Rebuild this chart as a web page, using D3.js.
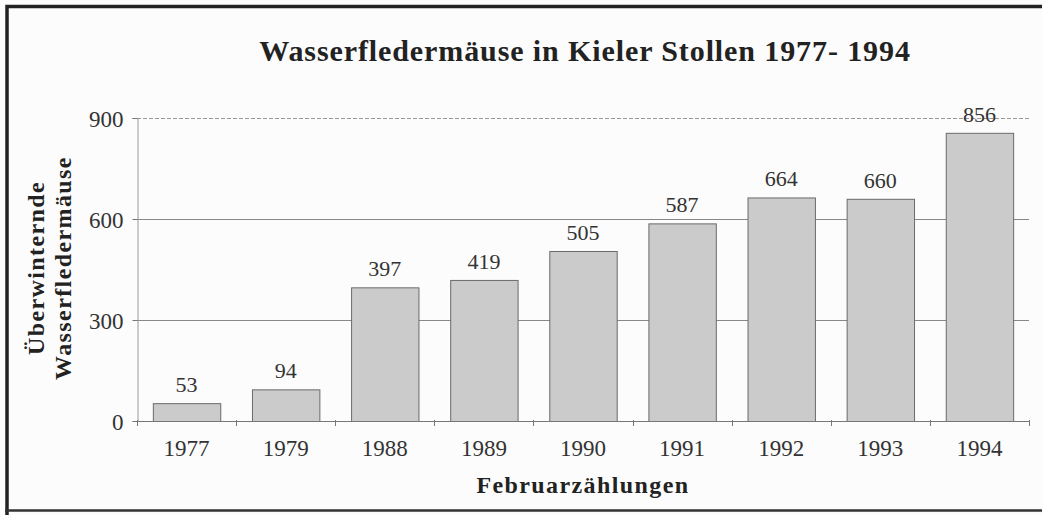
<!DOCTYPE html>
<html>
<head>
<meta charset="utf-8">
<script src="https://cdn.jsdelivr.net/npm/d3@7"></script>
<style>
  body { margin: 0; background: #fcfcfc; }
  svg { display: block; }
</style>
</head>
<body>
<div id="chart"></div>
<script>
const years = ['1977', '1979', '1988', '1989', '1990', '1991', '1992', '1993', '1994'];
const counts = [53, 94, 397, 419, 505, 587, 664, 660, 856];
const yTicks = [0, 300, 600, 900];

const width = 1042, height = 515;
const plot = { left: 137, right: 1029, top: 118, bottom: 421 };
const serif = '"Liberation Serif", "DejaVu Serif", serif';

const svg = d3.select('#chart')
  .append('svg')
  .attr('width', width)
  .attr('height', height)
  .attr('font-family', serif);

// frame
svg.append('path')
  .attr('d', `M7,${height + 5} L7,6.5 L${width + 5},6.5`)
  .attr('fill', 'none')
  .attr('stroke', '#222')
  .attr('stroke-width', 3.5);
svg.append('line')
  .attr('x1', 5).attr('x2', width + 5)
  .attr('y1', 510.5).attr('y2', 510.5)
  .attr('stroke', '#333')
  .attr('stroke-width', 2.5);

const x = d3.scaleBand()
  .domain(years)
  .range([plot.left, plot.right])
  .paddingInner(0.32)
  .paddingOuter(0.16);

const y = d3.scaleLinear()
  .domain([0, 900])
  .range([plot.bottom, plot.top]);

// grid lines
svg.append('g')
  .selectAll('line')
  .data(yTicks.filter(d => d > 0))
  .enter()
  .append('line')
  .attr('x1', plot.left).attr('x2', plot.right)
  .attr('y1', d => Math.round(y(d)) + 0.5)
  .attr('y2', d => Math.round(y(d)) + 0.5)
  .attr('stroke', d => d === 900 ? '#999' : '#888')
  .attr('stroke-dasharray', d => d === 900 ? '4,2' : null);

// y axis
const yAxis = svg.append('g')
  .attr('transform', `translate(${plot.left + 0.5},0)`)
  .call(d3.axisLeft(y).tickValues(yTicks).tickSize(5).tickPadding(9).tickFormat(d3.format('d')));
yAxis.attr('font-family', serif);
yAxis.select('.domain').attr('stroke', '#999');
yAxis.selectAll('.tick line').attr('stroke', '#777');
yAxis.selectAll('.tick text')
  .attr('font-size', 23)
  .attr('fill', '#333')
  .attr('dy', '0.36em');

// bars
svg.append('g')
  .selectAll('rect')
  .data(counts)
  .enter()
  .append('rect')
  .attr('x', (d, i) => x(years[i]) + 0.5)
  .attr('y', d => y(d) + 0.5)
  .attr('width', x.bandwidth())
  .attr('height', d => y(0) - y(d))
  .attr('fill', '#cbcbcb')
  .attr('stroke', '#6a6a6a')
  .attr('stroke-width', 1);

// x baseline with ticks at band boundaries
const step = x.step();
svg.append('line')
  .attr('x1', plot.left).attr('x2', plot.right)
  .attr('y1', y(0) + 0.5).attr('y2', y(0) + 0.5)
  .attr('stroke', '#777');
svg.append('g')
  .selectAll('line')
  .data(d3.range(years.length + 1))
  .enter()
  .append('line')
  .attr('x1', i => Math.round(plot.left + i * step) + 0.5)
  .attr('x2', i => Math.round(plot.left + i * step) + 0.5)
  .attr('y1', y(0) - 1)
  .attr('y2', y(0) + 5)
  .attr('stroke', '#777');

// x tick labels
svg.append('g')
  .selectAll('text')
  .data(years)
  .enter()
  .append('text')
  .attr('x', d => x(d) + x.bandwidth() / 2)
  .attr('y', 456)
  .attr('text-anchor', 'middle')
  .attr('font-family', serif)
  .attr('font-size', 23)
  .attr('fill', '#333')
  .text(d => d);

// value labels
svg.append('g')
  .selectAll('text')
  .data(counts)
  .enter()
  .append('text')
  .attr('x', (d, i) => x(years[i]) + x.bandwidth() / 2)
  .attr('y', d => y(d) - 11)
  .attr('text-anchor', 'middle')
  .attr('font-family', serif)
  .attr('font-size', 22)
  .attr('fill', '#333')
  .text(d => d);

// title
svg.append('text')
  .attr('x', 585)
  .attr('y', 61)
  .attr('text-anchor', 'middle')
  .attr('font-size', 30)
  .attr('letter-spacing', 0.9)
  .attr('font-weight', 'bold')
  .attr('fill', '#222')
  .text('Wasserfledermäuse in Kieler Stollen 1977- 1994');

// x axis title
svg.append('text')
  .attr('x', 583)
  .attr('y', 493)
  .attr('text-anchor', 'middle')
  .attr('font-size', 24)
  .attr('letter-spacing', 1.4)
  .attr('font-weight', 'bold')
  .attr('fill', '#222')
  .text('Februarzählungen');

// y axis title
const yTitle = svg.append('text')
  .attr('transform', 'translate(44,268) rotate(-90)')
  .attr('text-anchor', 'middle')
  .attr('font-size', 24)
  .attr('letter-spacing', 1.4)
  .attr('font-weight', 'bold')
  .attr('fill', '#222');
yTitle.append('tspan').attr('x', 0).attr('y', 0).text('Überwinternde');
yTitle.append('tspan').attr('x', 0).attr('y', 27).text('Wasserfledermäuse');
</script>
</body>
</html>
